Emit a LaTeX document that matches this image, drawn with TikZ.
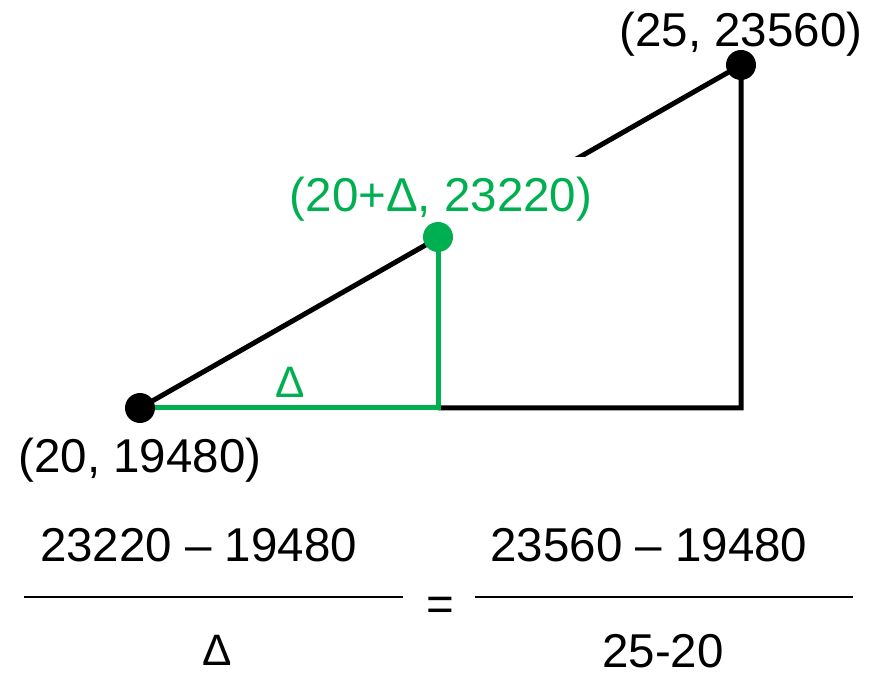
\documentclass[tikz,border=0pt]{standalone}
\usepackage{fontspec}
\setmainfont{Liberation Sans}
\usepackage{tikz}
\definecolor{ppgreen}{RGB}{0,176,80}
\tikzset{
  bigtext/.style={font=\fontsize{47.5}{57}\selectfont, inner sep=0pt},
  deltatext/.style={font=\fontsize{44}{52}\selectfont, inner sep=0pt},
  ptdot/.style={circle, fill=#1, minimum size=30pt, inner sep=0pt},
  side/.style={line width=5pt},
}
\begin{document}
\begin{tikzpicture}[x=1pt, y=-1pt]
    \useasboundingbox (0,0) rectangle (871,676);

    % Triangle corners
    \coordinate (low) at (140,408);
    \coordinate (mid) at (438,237);
    \coordinate (high) at (741,65);
    \coordinate (midfoot) at (438,408);
    \coordinate (corner) at (741,408);

    % Big triangle
    \draw[side, line join=miter] (low) -- (high) -- (corner) -- (midfoot);

    % Label of the middle point (its white box hides the line)
    \node[bigtext, ppgreen, fill=white, anchor=base, text height=35pt, text depth=10pt, inner ysep=20pt, inner xsep=8pt] (midlbl) at (441,212) {(20+Δ, 23220)};

    % Small triangle
    \draw[side, ppgreen, line join=miter] (mid) -- (midfoot) -- (low);

    % Points
    \node[ptdot=black] (lowdot) at (low) {};
    \node[ptdot=ppgreen] (middot) at (mid) {};
    \node[ptdot=black] (highdot) at (high) {};

    % Point labels
    \node[bigtext, anchor=base] (lowlbl) at (140,472) {(20, 19480)};
    \node[bigtext, anchor=base] (highlbl) at (741,47) {(25, 23560)};
    \node[deltatext, ppgreen, anchor=base] (dlbl) at (290,398) {Δ};

    % Fractions
    \coordinate (lbarL) at (24,597);
    \coordinate (lbarR) at (403,597);
    \coordinate (rbarL) at (475,597);
    \coordinate (rbarR) at (853,597);
    \draw[line width=2pt] (lbarL) -- (lbarR);
    \draw[line width=2pt] (rbarL) -- (rbarR);
    \node[bigtext, anchor=base] (lnum) at (198.5,561) {23220 – 19480};
    \node[deltatext, anchor=base, text depth=0pt] (lden) at (217,665) {Δ};
    \node[bigtext, anchor=base] (eq) at (440,620) {=};
    \node[bigtext, anchor=base] (rnum) at (649,561) {23560 – 19480};
    \node[bigtext, anchor=base, text depth=0pt] (rden) at (663,667) {25-20};
\end{tikzpicture}
\end{document}
